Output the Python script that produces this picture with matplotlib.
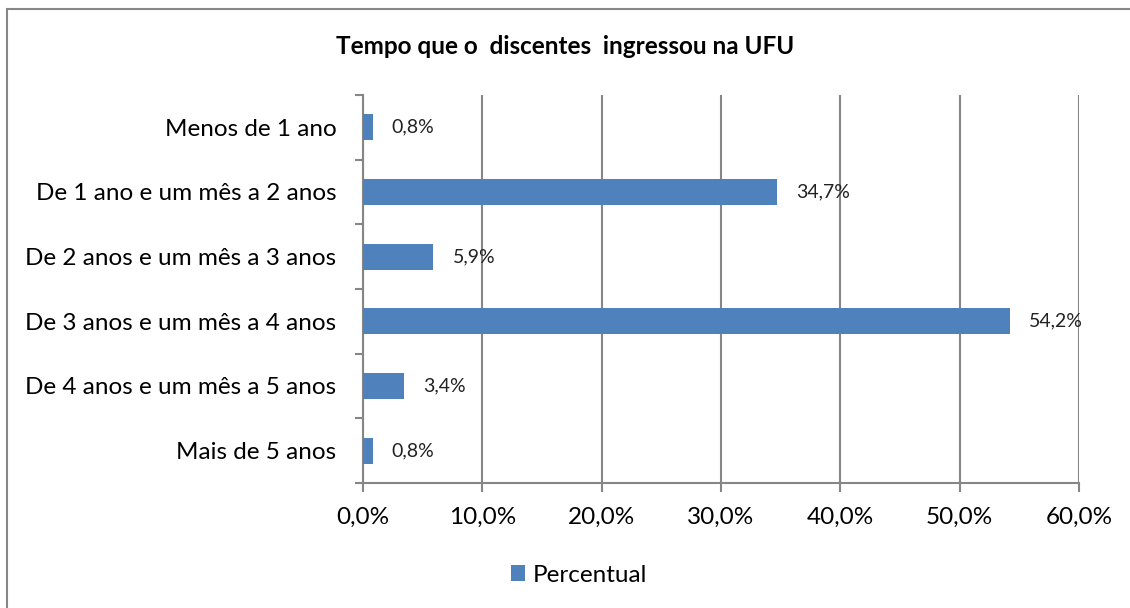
import matplotlib
matplotlib.use("Agg")
import matplotlib.pyplot as plt
from matplotlib.patches import Rectangle

categorias = ['Menos de 1 ano', 'De 1 ano e um mês a 2 anos', 'De 2 anos e um mês a 3 anos',
              'De 3 anos e um mês a 4 anos', 'De 4 anos e um mês a 5 anos', 'Mais de 5 anos']
percentual = [0.8, 34.7, 5.9, 54.2, 3.4, 0.8]
rotulos = ['0,8%', '34,7%', '5,9%', '54,2%', '3,4%', '0,8%']
ticks_x = [0, 10, 20, 30, 40, 50, 60]
ticks_lbl = ['0,0%', '10,0%', '20,0%', '30,0%', '40,0%', '50,0%', '60,0%']

plt.rcParams['font.family'] = ['Lato', 'DejaVu Sans']
cor = '#4f81bd'
cinza = '#868686'

fig = plt.figure(figsize=(11.3, 6.08), dpi=100)
ax = fig.add_axes([363 / 1130, 1 - 483 / 608, (1079 - 363) / 1130, (483 - 95) / 608])

y = list(range(len(categorias)))
ax.barh(y, percentual, height=0.4, color=cor, label='Percentual', zorder=3)
for yi, v, t in zip(y, percentual, rotulos):
    ax.text(v + 1.6, yi, t, va='center', ha='left', fontsize=14, color='#222222', zorder=4)

ax.set_ylim(len(categorias) - 0.5, -0.5)
ax.set_xlim(0, 60)
ax.set_yticks(y)
ax.set_yticklabels(categorias, fontsize=17.5)
ax.set_yticks([i + 0.5 for i in range(-1, len(categorias))], minor=True)
ax.tick_params(axis='y', which='major', length=0, pad=19)
ax.tick_params(axis='y', which='minor', length=6, color=cinza, width=1.5)
ax.set_xticks(ticks_x)
ax.set_xticklabels(ticks_lbl, fontsize=17.5)
ax.tick_params(axis='x', length=6.5, color=cinza, width=1.5, pad=11)
ax.grid(axis='x', color=cinza, linewidth=1.5, zorder=0)
for s in ['top', 'right']:
    ax.spines[s].set_visible(False)
for s in ['left', 'bottom']:
    ax.spines[s].set_color(cinza)
    ax.spines[s].set_linewidth(1.5)

fig.text(565 / 1130, 1 - 47 / 608, 'Tempo que o  discentes  ingressou na UFU', ha='center', va='center',
         fontsize=17.5, fontweight='bold')

fig.legend(loc='center', bbox_to_anchor=(579 / 1130, 1 - 575 / 608), frameon=False, fontsize=17.5,
           handlelength=0.6, handleheight=0.6, handletextpad=0.3)

fig.patches.append(Rectangle((7 / 1130, -0.05), 1.2, 1 - 9 / 608 + 0.05, transform=fig.transFigure,
                             fill=False, edgecolor=cinza, linewidth=1.5))

fig.savefig('out.png', dpi=100)
